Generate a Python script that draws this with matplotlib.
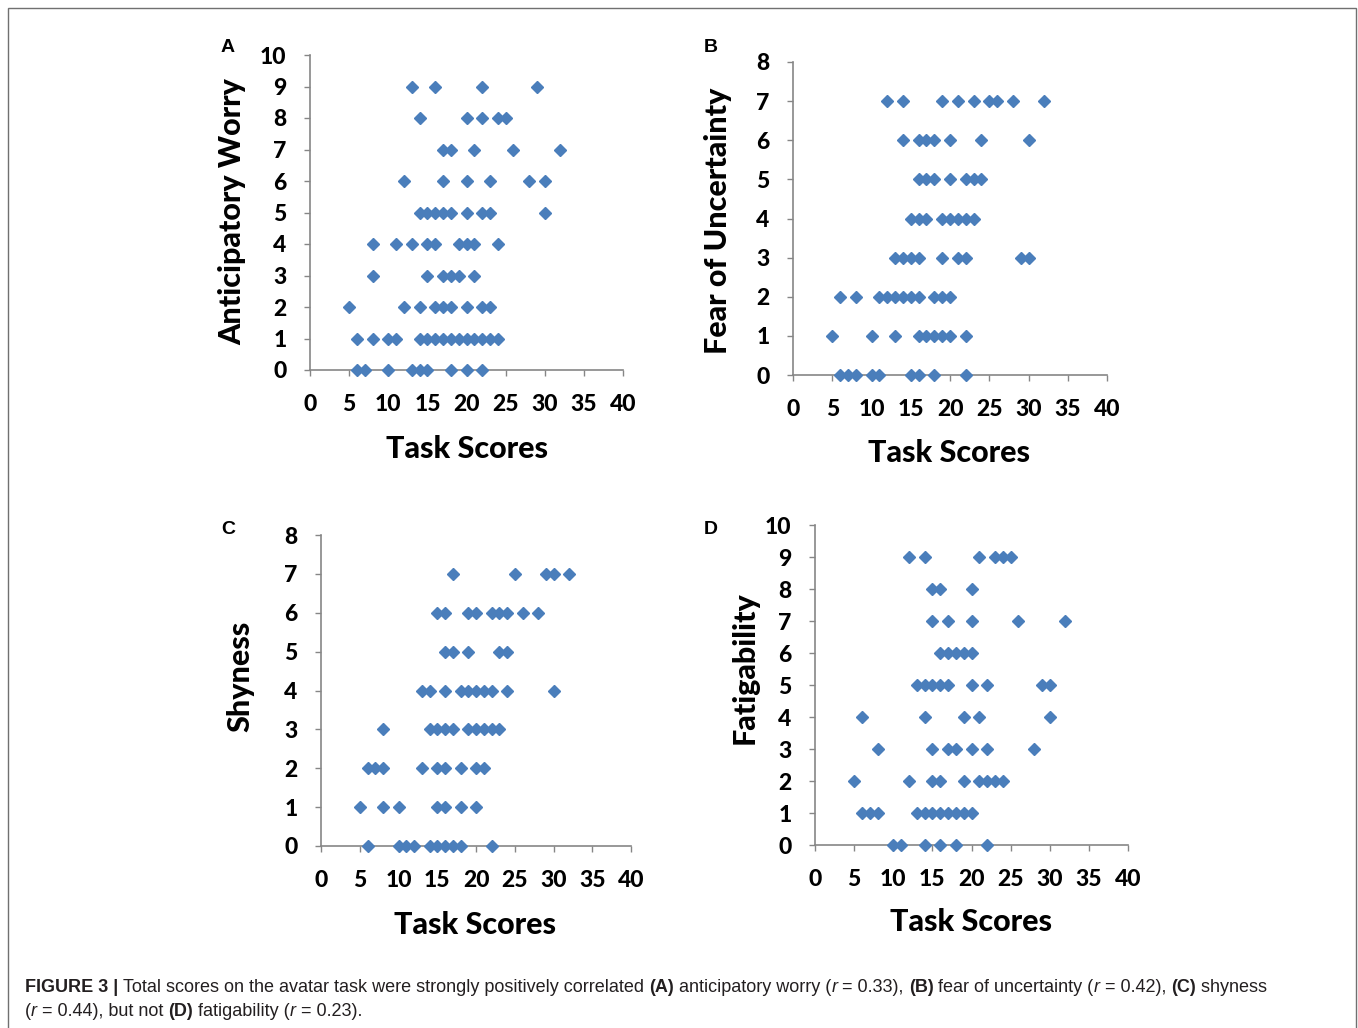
import matplotlib
matplotlib.use('Agg')
import matplotlib.pyplot as plt
from matplotlib.patches import Rectangle

W, H = 1358, 1028

# task score values per rating level
worry_rows = {
    9: [13, 16, 22, 29],
    8: [14, 20, 22, 24, 25],
    7: [17, 18, 21, 26, 32],
    6: [12, 17, 20, 23, 28, 30],
    5: [14, 15, 16, 17, 18, 20, 22, 23, 30],
    4: [8, 11, 13, 15, 16, 19, 20, 21, 24],
    3: [8, 15, 17, 18, 19, 21],
    2: [5, 12, 14, 16, 17, 18, 20, 22, 23],
    1: [6, 8, 10, 11, 14, 15, 16, 17, 18, 19, 20, 21, 22, 23, 24],
    0: [6, 7, 10, 13, 14, 15, 18, 20, 22],
}
uncertainty_rows = {
    7: [12, 14, 19, 21, 23, 25, 26, 28, 32],
    6: [14, 16, 17, 18, 20, 24, 30],
    5: [16, 17, 18, 20, 22, 23, 24],
    4: [15, 16, 17, 19, 20, 21, 22, 23],
    3: [13, 14, 15, 16, 19, 21, 22, 29, 30],
    2: [6, 8, 11, 12, 13, 14, 15, 16, 18, 19, 20],
    1: [5, 10, 13, 16, 17, 18, 19, 20, 22],
    0: [6, 7, 8, 10, 11, 15, 16, 18, 22],
}
shyness_rows = {
    7: [17, 25, 29, 30, 32],
    6: [15, 16, 19, 20, 22, 23, 24, 26, 28],
    5: [16, 17, 19, 23, 24],
    4: [13, 14, 16, 18, 19, 20, 21, 22, 24, 30],
    3: [8, 14, 15, 16, 17, 19, 20, 21, 22, 23],
    2: [6, 7, 8, 13, 15, 16, 18, 20, 21],
    1: [5, 8, 10, 15, 16, 18, 20],
    0: [6, 10, 11, 12, 14, 15, 16, 17, 18, 22],
}
fatigue_rows = {
    9: [12, 14, 21, 23, 24, 25],
    8: [15, 16, 20],
    7: [15, 17, 20, 26, 32],
    6: [16, 17, 18, 19, 20],
    5: [13, 14, 15, 16, 17, 20, 22, 29, 30],
    4: [6, 14, 19, 21, 30],
    3: [8, 15, 17, 18, 20, 22, 28],
    2: [5, 12, 15, 16, 19, 21, 22, 23, 24],
    1: [6, 7, 8, 13, 14, 15, 16, 17, 18, 19, 20],
    0: [10, 11, 14, 16, 18, 22],
}

panel_letters = ['A', 'B', 'C', 'D']
y_labels = ['Anticipatory Worry', 'Fear of Uncertainty', 'Shyness', 'Fatigability']
y_max = [10, 8, 8, 10]
x_label = 'Task Scores'

BLUE = '#4a7ebb'
GREY = '#868686'
TICK_FONT = 'Lato'
HEAVY = 'black'


def fx(px):
    return px / W


def fy(py):
    return 1 - py / H


fig = plt.figure(figsize=(W / 100, H / 100), dpi=100)
fig.patch.set_facecolor('white')

# outer frame of the figure
fig.patches.append(Rectangle((fx(8), fy(1040)), fx(1356) - fx(8), fy(8) - fy(1040),
                             transform=fig.transFigure, fill=False,
                             edgecolor='#707070', linewidth=1.0))

# axes boxes in pixels: left, top, right, bottom
boxes = [(310, 55, 623, 370), (793, 62, 1107, 375),
         (321, 535, 631, 846), (815, 525, 1128, 845)]
# label positions in pixels
letter_pos = [(228, 47), (711, 47), (228, 530), (711, 530)]
ylab_pos = [(232, 212), (718, 221), (240, 676), (745, 668)]
xlab_pos = [(467, 449), (949, 453), (475, 925), (971, 922)]

all_rows = [worry_rows, uncertainty_rows, shyness_rows, fatigue_rows]

for i, rows in enumerate(all_rows):
    l, t, r, b = boxes[i]
    ax = fig.add_axes([fx(l), fy(b), fx(r) - fx(l), fy(t) - fy(b)])
    xs, ys = [], []
    for level, scores in rows.items():
        xs += scores
        ys += [level] * len(scores)
    ax.plot(xs, ys, linestyle='none', marker='D', markersize=6.4,
            color=BLUE, clip_on=False, zorder=5)
    ax.set_xlim(0, 40)
    ax.set_ylim(0, y_max[i])
    ax.set_xticks(range(0, 41, 5))
    ax.set_yticks(range(0, y_max[i] + 1))
    for s in ('top', 'right'):
        ax.spines[s].set_visible(False)
    for s in ('left', 'bottom'):
        ax.spines[s].set_color(GREY)
        ax.spines[s].set_linewidth(1.2)
    ax.tick_params(direction='out', length=4, width=1.0, color=GREY,
                   labelsize=16.5, pad=13)
    for lab in ax.get_xticklabels() + ax.get_yticklabels():
        lab.set_fontfamily(TICK_FONT)
        lab.set_fontweight(HEAVY)

    fig.text(fx(letter_pos[i][0]), fy(letter_pos[i][1]), panel_letters[i],
             fontsize=14, fontweight='bold', family='Liberation Sans',
             ha='center', va='center')
    fig.text(fx(ylab_pos[i][0]), fy(ylab_pos[i][1]), y_labels[i],
             fontsize=22, fontweight=HEAVY, family=TICK_FONT,
             rotation=90, ha='center', va='center')
    fig.text(fx(xlab_pos[i][0]), fy(xlab_pos[i][1]), x_label,
             fontsize=22, fontweight=HEAVY, family=TICK_FONT,
             ha='center', va='center')

# caption, written piece by piece so bold and italic parts can mix
caption = [
    [('FIGURE 3 | ', 'bold', 'normal'),
     ('Total scores on the avatar task were strongly positively correlated ', 'normal', 'normal'),
     ('(A)', 'bold', 'normal'), (' anticipatory worry (', 'normal', 'normal'),
     ('r', 'normal', 'italic'), (' = 0.33), ', 'normal', 'normal'),
     ('(B)', 'bold', 'normal'), (' fear of uncertainty (', 'normal', 'normal'),
     ('r', 'normal', 'italic'), (' = 0.42), ', 'normal', 'normal'),
     ('(C)', 'bold', 'normal'), (' shyness', 'normal', 'normal')],
    [('(', 'normal', 'normal'), ('r', 'normal', 'italic'),
     (' = 0.44), but not ', 'normal', 'normal'), ('(D)', 'bold', 'normal'),
     (' fatigability (', 'normal', 'normal'), ('r', 'normal', 'italic'),
     (' = 0.23).', 'normal', 'normal')],
]
cap_font = ['Liberation Sans']
renderer = fig.canvas.get_renderer()
for line, py in zip(caption, [987, 1011]):
    x = fx(25)
    for s, wt, st in line:
        txt = fig.text(x, fy(py), s, fontsize=12.95, fontweight=wt, fontstyle=st,
                       family=cap_font, color='#231f20', ha='left', va='center')
        bb = txt.get_window_extent(renderer)
        x = bb.x1 / W

fig.savefig('out.png', dpi=100)
